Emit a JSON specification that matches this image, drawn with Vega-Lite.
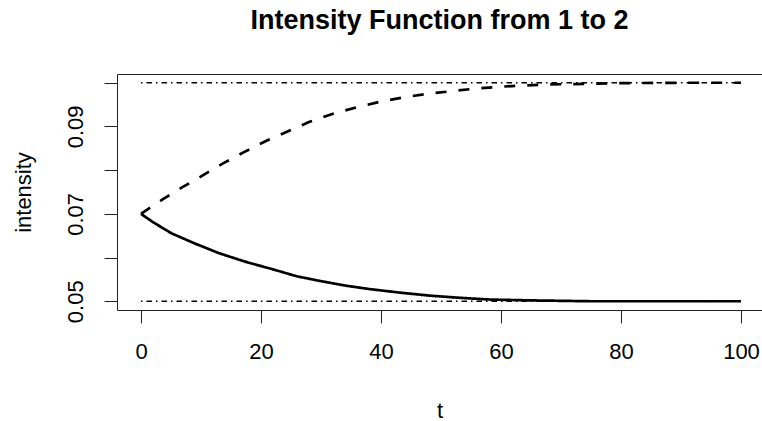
{
  "$schema": "https://vega.github.io/schema/vega-lite/v6.json",
  "width": 645,
  "height": 236,
  "autosize": {"type": "none"},
  "padding": {"left": 117, "top": 74, "right": 0, "bottom": 111},
  "background": "white",
  "config": {
    "font": "Liberation Sans",
    "view": {"stroke": "#222222", "strokeWidth": 1},
    "axis": {
      "grid": false,
      "domain": false,
      "tickColor": "#222222",
      "tickWidth": 1,
      "tickSize": 13,
      "labelColor": "#000000",
      "labelFont": "Liberation Sans",
      "labelFontSize": 22,
      "titleColor": "#000000",
      "titleFont": "Liberation Sans",
      "titleFontSize": 22,
      "titleFontWeight": "normal"
    }
  },
  "title": {
    "text": "Intensity Function from 1 to 2",
    "font": "Liberation Sans",
    "fontSize": 27,
    "fontWeight": "bold",
    "color": "#000000",
    "anchor": "middle",
    "baseline": "alphabetic",
    "offset": 18
  },
  "datasets": {
    "curves": [
      {"t": 0, "intensity": 0.0700, "curve": "rising"},
      {"t": 3.6, "intensity": 0.0733, "curve": "rising"},
      {"t": 6.9, "intensity": 0.0761, "curve": "rising"},
      {"t": 10.3, "intensity": 0.0788, "curve": "rising"},
      {"t": 13.6, "intensity": 0.0815, "curve": "rising"},
      {"t": 17, "intensity": 0.0840, "curve": "rising"},
      {"t": 21, "intensity": 0.0868, "curve": "rising"},
      {"t": 25, "intensity": 0.0892, "curve": "rising"},
      {"t": 28, "intensity": 0.0910, "curve": "rising"},
      {"t": 32, "intensity": 0.0929, "curve": "rising"},
      {"t": 36, "intensity": 0.0944, "curve": "rising"},
      {"t": 40, "intensity": 0.0957, "curve": "rising"},
      {"t": 44, "intensity": 0.0967, "curve": "rising"},
      {"t": 48, "intensity": 0.0975, "curve": "rising"},
      {"t": 52, "intensity": 0.0981, "curve": "rising"},
      {"t": 56, "intensity": 0.0987, "curve": "rising"},
      {"t": 60, "intensity": 0.0991, "curve": "rising"},
      {"t": 64, "intensity": 0.0994, "curve": "rising"},
      {"t": 68, "intensity": 0.0996, "curve": "rising"},
      {"t": 72, "intensity": 0.0997, "curve": "rising"},
      {"t": 76, "intensity": 0.0998, "curve": "rising"},
      {"t": 80, "intensity": 0.0999, "curve": "rising"},
      {"t": 90, "intensity": 0.1000, "curve": "rising"},
      {"t": 100, "intensity": 0.1000, "curve": "rising"},
      {"t": 0, "intensity": 0.0700, "curve": "falling"},
      {"t": 2, "intensity": 0.0681, "curve": "falling"},
      {"t": 5, "intensity": 0.0656, "curve": "falling"},
      {"t": 9, "intensity": 0.0632, "curve": "falling"},
      {"t": 13, "intensity": 0.0610, "curve": "falling"},
      {"t": 17.5, "intensity": 0.0590, "curve": "falling"},
      {"t": 22, "intensity": 0.0573, "curve": "falling"},
      {"t": 26, "intensity": 0.0557, "curve": "falling"},
      {"t": 30, "intensity": 0.0546, "curve": "falling"},
      {"t": 34, "intensity": 0.0536, "curve": "falling"},
      {"t": 38, "intensity": 0.0528, "curve": "falling"},
      {"t": 43, "intensity": 0.0520, "curve": "falling"},
      {"t": 48, "intensity": 0.0513, "curve": "falling"},
      {"t": 53, "intensity": 0.0508, "curve": "falling"},
      {"t": 58, "intensity": 0.0504, "curve": "falling"},
      {"t": 65, "intensity": 0.0502, "curve": "falling"},
      {"t": 75, "intensity": 0.0500, "curve": "falling"},
      {"t": 100, "intensity": 0.0500, "curve": "falling"}
    ],
    "bounds": [
      {"t": 0, "intensity": 0.05, "level": "lower"},
      {"t": 100, "intensity": 0.05, "level": "lower"},
      {"t": 0, "intensity": 0.10, "level": "upper"},
      {"t": 100, "intensity": 0.10, "level": "upper"}
    ]
  },
  "encoding": {
    "x": {
      "field": "t",
      "type": "quantitative",
      "scale": {"domain": [-4, 103.5], "nice": false, "zero": false},
      "axis": {
        "orient": "bottom",
        "values": [0, 20, 40, 60, 80, 100],
        "format": "d",
        "labelPadding": 18,
        "labelBaseline": "top",
        "title": "t",
        "titleY": 107,
        "titleBaseline": "alphabetic"
      }
    },
    "y": {
      "field": "intensity",
      "type": "quantitative",
      "scale": {"domain": [0.048, 0.102], "nice": false, "zero": false},
      "axis": {
        "orient": "left",
        "values": [0.05, 0.06, 0.07, 0.08, 0.09, 0.1],
        "labelExpr": "(round(datum.value * 100) % 2 == 1) ? format(datum.value, '.2f') : ''",
        "labelAngle": 270,
        "labelAlign": "center",
        "labelBaseline": "bottom",
        "labelPadding": 17,
        "title": "intensity",
        "titleAngle": 270,
        "titleAlign": "center",
        "titleBaseline": "alphabetic",
        "titleX": -87,
        "titleY": 118
      }
    }
  },
  "layer": [
    {
      "data": {"name": "curves"},
      "mark": {"type": "line", "color": "#000000", "strokeWidth": 2.7, "interpolate": "linear"},
      "encoding": {
        "detail": {"field": "curve"},
        "strokeDash": {
          "field": "curve",
          "type": "nominal",
          "scale": {"domain": ["falling", "rising"], "range": [[1, 0], [11, 12]]},
          "legend": null
        }
      }
    },
    {
      "data": {"name": "bounds"},
      "mark": {"type": "line", "color": "#000000", "strokeWidth": 1.3, "strokeDash": [1.5, 4, 5.5, 4]},
      "encoding": {
        "detail": {"field": "level"}
      }
    }
  ]
}
